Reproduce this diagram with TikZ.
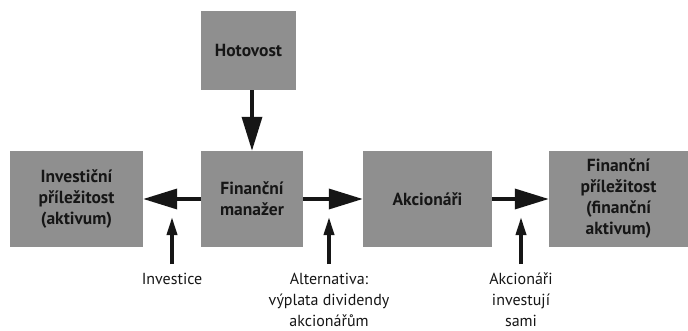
\documentclass[tikz,border=0pt]{standalone}
\usepackage{fontspec}
\setmainfont{PT Sans}
\usepackage{tikz}
\usetikzlibrary{arrows.meta}

\definecolor{boxgray}{RGB}{143,143,143}
\definecolor{inkblack}{RGB}{22,22,22}

\begin{document}
\begin{tikzpicture}[x=1pt, y=1pt,
  every box/.style={fill=boxgray, text=inkblack, inner sep=0pt, align=center,
    font=\fontsize{17.5}{21}\selectfont\bfseries},
  every label/.style={inner sep=0pt, align=center, text=inkblack,
    font=\fontsize{16}{21}\selectfont},
  big arrow/.style={draw=inkblack, line width=3.5pt,
    -{Triangle[length=34pt, width=20pt]}},
  small arrow/.style={draw=inkblack, line width=3.5pt,
    -{Triangle[length=18pt, width=10pt]}}]

\useasboundingbox (0,0) rectangle (688,330);

\node [every box, minimum width=95pt, minimum height=79pt] (hotovost) at (248.5,279.5) {Hotovost};

\node [every box, minimum width=133pt, minimum height=96pt] (invest) at (76.5,131) {Investiční\\příležitost\\(aktivum)};
\node [every box, minimum width=102pt, minimum height=96pt] (manager) at (252,131) {Finanční\\manažer};
\node [every box, minimum width=129pt, minimum height=96pt] (akcionari) at (427.5,131) {Akcionáři};
\node [every box, minimum width=139pt, minimum height=96pt] (financni) at (618.5,131) {Finanční\\příležitost\\(finanční\\aktivum)};

\draw [big arrow] (hotovost.south -| manager) -- (manager.north);
\draw [big arrow] (manager) -- (invest);
\draw [big arrow] (manager) -- (akcionari);
\draw [big arrow] (akcionari) -- (financni);

\foreach \m/\x/\t in {inv/172/{Investice},
                      alt/329/{Alternativa:\\výplata dividendy\\akcionářům},
                      sam/521/{Akcionáři\\investují\\sami}}
{
  \node [every label, anchor=north] (\m-text) at (\x,57) {\t};
  \coordinate (\m-tip) at (\x,113);
  \draw [small arrow, shorten <=9pt] (\m-text.north) -- (\m-tip);
}

\end{tikzpicture}
\end{document}
